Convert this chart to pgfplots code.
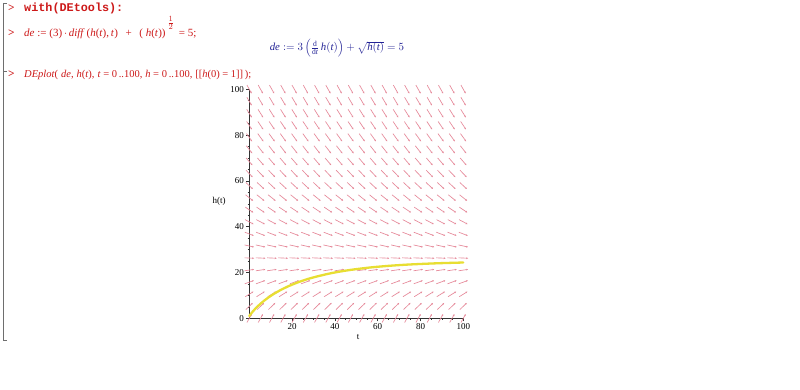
\documentclass[border=0pt]{standalone}
\usepackage{pgfplots}
\pgfplotsset{compat=1.18}
\usepackage{pgfplotstable}
\usepackage{fontspec}
\setmainfont{Liberation Serif}
\setmonofont{Liberation Mono}
\usetikzlibrary{arrows.meta}
\definecolor{mred}{RGB}{205,25,25}
\definecolor{mblue}{RGB}{35,35,150}
\definecolor{field}{RGB}{230,135,152}
\definecolor{sol}{RGB}{232,222,50}
\definecolor{brk}{RGB}{110,110,110}

% grid of t values for the direction field
\pgfplotstableread{
t       d
0       0
5.263   0
10.526  0
15.789  0
21.053  0
26.316  0
31.579  0
36.842  0
42.105  0
47.368  0
52.632  0
57.895  0
63.158  0
68.421  0
73.684  0
78.947  0
84.211  0
89.474  0
94.737  0
100     0
}\tgrid

% one row of arrows: h, u, v (data units)
\newcommand{\fieldrow}[3]{%
  \addplot[field, line width=0.65pt, -{Stealth[length=1.8pt,width=1.7pt]},
    quiver={u=1.12*(#2), v=1.12*(#3)}]
    table[x expr=\thisrow{t}-0.56*(#2), y expr=#1-0.56*(#3)] {\tgrid};}

\begin{document}
\begin{tikzpicture}
\path[use as bounding box, fill=white] (0pt,0pt) rectangle (800pt,-390pt);

% worksheet bracket
\draw[brk, line width=0.8pt] (7pt,-3pt) -- (3.5pt,-3pt) -- (3.5pt,-340pt) -- (7pt,-340pt);
\draw[brk, line width=0.8pt] (3.5pt,-71pt) -- (7pt,-71pt);

% prompts
\foreach \yy in {12,37,78}{
  \node[anchor=base west, inner sep=0pt, text=mred] at (8pt,-\yy pt) {\fontsize{11.5}{11}\selectfont\bfseries >};
}

% input line 1
\node[anchor=base west, inner sep=0pt, text=mred] at (24pt,-12pt)
  {\fontsize{11.8}{12}\selectfont\ttfamily\bfseries with(DEtools):};

% input line 2
\node[anchor=base west, inner sep=0pt, text=mred] at (24pt,-37pt)
  {\fontsize{11}{12}\selectfont \textit{de} := (3)\,$\cdot$\,\textit{diff}\,(\textit{h}(\textit{t}),\,\textit{t})\;\, + \;\,( \textit{h}(\textit{t}))\,\raisebox{11pt}{$\frac{1}{2}$}\;\,= 5;};

% output line
\node[anchor=base, inner sep=0pt, text=mblue] at (337pt,-51pt)
  {\fontsize{10.8}{12}\selectfont $\mathit{de} \mathrel{:=} 3\left(\frac{\mathrm{d}}{\mathrm{d}\mathit{t}}\,\mathit{h}(\mathit{t})\right) + \sqrt{\mathit{h}(\mathit{t})} = 5$};

% input line 3
\node[anchor=base west, inner sep=0pt, text=mred] at (24pt,-78pt)
  {\fontsize{10.5}{12}\selectfont \textit{DEplot}(\;\textit{de},\;\textit{h}(\textit{t}),\;\textit{t} = 0\,..100,\;\textit{h} = 0\,..100,\;[[\textit{h}(0) = 1]]\,);};

\begin{axis}[
  at={(249.3pt,-318.3pt)}, anchor=south west,
  scale only axis, width=214pt, height=229pt,
  xmin=0, xmax=100, ymin=0, ymax=100,
  axis lines=left, axis line style={-, line width=0.6pt, black!80},
  clip=false,
  xtick={20,40,60,80,100}, ytick={0,20,40,60,80,100},
  minor tick num=3,
  tick align=outside,
  major tick length=3pt, minor tick length=1.6pt,
  tick style={black!80, line width=0.5pt},
  /pgf/number format/assume math mode=true,
  ticklabel style={font=\fontsize{9}{9}\selectfont},
  xticklabel style={yshift=1pt},
  yticklabel style={xshift=1pt},
]
\fieldrow{0}{1.943}{3.238}
\fieldrow{5.263}{2.858}{2.578}
\fieldrow{10.526}{3.366}{1.970}
\fieldrow{15.789}{3.730}{1.276}
\fieldrow{21.053}{3.930}{0.539}
\fieldrow{26.316}{3.968}{-0.172}
\fieldrow{31.579}{3.878}{-0.801}
\fieldrow{36.842}{3.711}{-1.323}
\fieldrow{42.105}{3.508}{-1.741}
\fieldrow{47.368}{3.298}{-2.069}
\fieldrow{52.632}{3.095}{-2.326}
\fieldrow{57.895}{2.908}{-2.529}
\fieldrow{63.158}{2.738}{-2.689}
\fieldrow{68.421}{2.585}{-2.819}
\fieldrow{73.684}{2.447}{-2.924}
\fieldrow{78.947}{2.324}{-3.010}
\fieldrow{84.211}{2.214}{-3.082}
\fieldrow{89.474}{2.114}{-3.142}
\fieldrow{94.737}{2.024}{-3.194}
\fieldrow{100}{1.943}{-3.238}

\addplot[sol, line width=2.3pt, smooth, line join=round, line cap=round] coordinates {
(0,1) (0.436,1.5625) (1.006,2.25) (1.729,3.0625) (2.630,4) (3.741,5.0625)
(5.100,6.25) (6.761,7.5625) (8.794,9) (11.300,10.5625) (14.425,12.25)
(18.395,14.0625) (23.589,16) (29.083,17.64) (36.514,19.36) (41.383,20.25)
(47.478,21.16) (55.508,22.09) (60.678,22.5625) (67.072,23.04) (75.402,23.5225)
(87.266,24.01) (97.787,24.305) (100,24.354)
};
\end{axis}

\node[inner sep=0pt] at (219pt,-201pt) {\fontsize{9}{9}\selectfont h(t)};
\node[inner sep=0pt] at (358pt,-337pt) {\fontsize{9}{9}\selectfont t};
\end{tikzpicture}
\end{document}
